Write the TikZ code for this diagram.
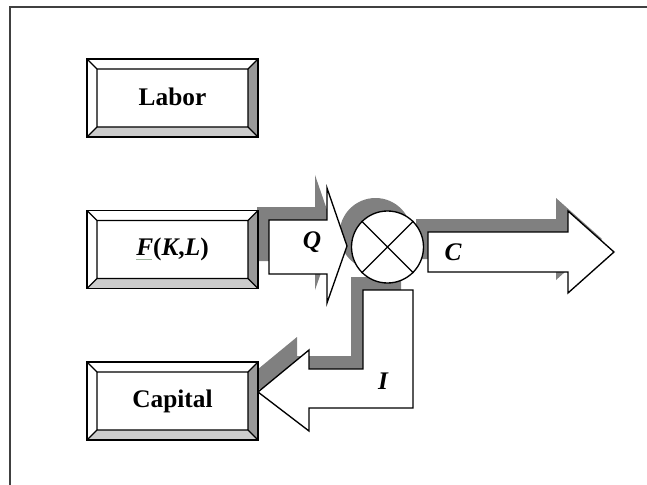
\documentclass[tikz,border=0pt]{standalone}
\usepackage{fontspec}
\setmainfont{Liberation Serif}
\usetikzlibrary{calc}
\definecolor{shadowgray}{HTML}{808080}
\definecolor{bevdark}{HTML}{999999}
\definecolor{bevlight}{HTML}{CCCCCC}
\definecolor{framegray}{HTML}{404040}
\definecolor{spellgreen}{HTML}{9DB59D}
\tikzset{
  outl/.style={draw=black, line width=1pt, line join=miter},
  bevelbox/.style={draw, line width=1pt, fill=white, minimum width=128.25pt,
    minimum height=58.5pt, inner sep=0pt,
    font=\bfseries\fontsize{19}{22}\selectfont,
    path picture={
      \coordinate (oSW) at (path picture bounding box.south west);
      \coordinate (oNE) at (path picture bounding box.north east);
      \coordinate (oSE) at (path picture bounding box.south east);
      \coordinate (oNW) at (path picture bounding box.north west);
      \coordinate (iSW) at ($(oSW)+(7.5pt,7.5pt)$);
      \coordinate (iNE) at ($(oNE)+(-7.5pt,-7.5pt)$);
      \coordinate (iSE) at ($(oSE)+(-7.5pt,7.5pt)$);
      \coordinate (iNW) at ($(oNW)+(7.5pt,-7.5pt)$);
      \fill[bevdark] (oNE) -- (oSE) -- (iSE) -- (iNE) -- cycle;
      \fill[bevlight] (oSW) -- (oSE) -- (iSE) -- (iSW) -- cycle;
      \draw[line width=1pt] (iSW) rectangle (iNE)
        (oSW) -- (iSW) (oSE) -- (iSE) (oNE) -- (iNE) (oNW) -- (iNW);
    }},
  lbl/.style={inner sep=0pt, font=\bfseries\itshape\fontsize{19}{22}\selectfont},
  mult/.style={circle, draw, line width=1pt, fill=white, minimum size=54pt, inner sep=0pt},
}
\begin{document}
\begin{tikzpicture}[x=0.75pt,y=-0.75pt]
\useasboundingbox (0,0) rectangle (647,485);
% frame
\draw[framegray, line width=1.3pt] (10,485) -- (10,7) -- (647,7);
% shadows
\begin{scope}[shift={(-12,-13)}]
  \fill[shadowgray] (269,220) -- (327,220) -- (327,188) -- (347,246) -- (327,303) -- (327,274) -- (269,274) -- cycle;
  \fill[shadowgray] (387.5,247) circle (27pt);
  \fill[shadowgray] (428,232) -- (568,232) -- (568,211) -- (614,252) -- (568,293) -- (568,272) -- (428,272) -- cycle;
  \fill[shadowgray] (413,290) -- (413,408) -- (309,408) -- (309,431) -- (258,392) -- (309,350) -- (309,369) -- (363,369) -- (363,290) -- cycle;
\end{scope}
% block arrows
\filldraw[fill=white, outl] (269,220) -- (327,220) -- (327,188) -- (347,246) -- (327,303) -- (327,274) -- (269,274) -- cycle;
\filldraw[fill=white, outl] (428,232) -- (568,232) -- (568,211) -- (614,252) -- (568,293) -- (568,272) -- (428,272) -- cycle;
\filldraw[fill=white, outl] (413,290) -- (413,408) -- (309,408) -- (309,431) -- (258,392) -- (309,350) -- (309,369) -- (363,369) -- (363,290) -- cycle;
% multiplier
\node[mult] (m) at (387.5,247) {};
\draw[line width=1pt] (m.north west) -- (m.south east) (m.north east) -- (m.south west);
% boxes
\node[bevelbox] (labor) at (172.5,98) {\raisebox{2pt}{Labor}};
\node[bevelbox] (fkl) at (172.5,249.5) {\raisebox{2pt}{{\color{spellgreen}\rlap{\rule[-3pt]{0.62em}{0.7pt}}}\textit{F}(\textit{K},\textit{L})}};
\node[bevelbox] (capital) at (172.5,401) {\raisebox{2.5pt}{Capital}};
% labels
\node[lbl] (q) at (312,242) {Q};
\node[lbl] (c) at (453,252) {C};
\node[lbl] (i) at (383,381) {I};
\end{tikzpicture}
\end{document}
